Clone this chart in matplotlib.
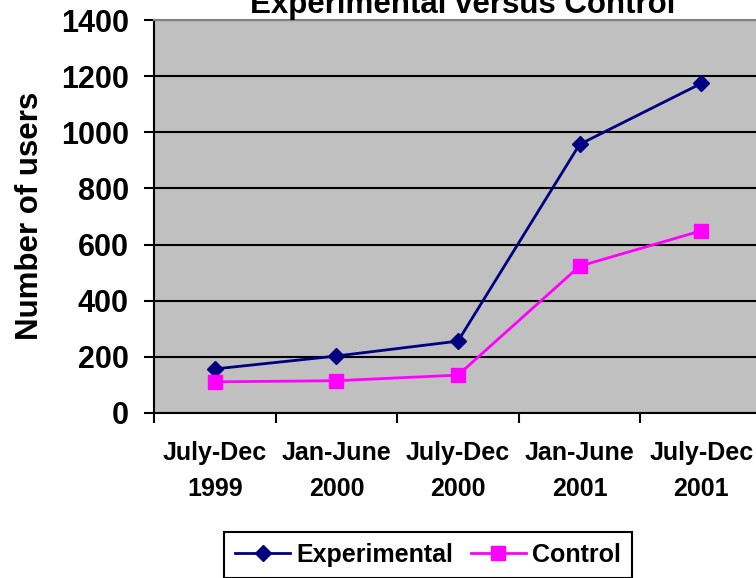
import matplotlib
matplotlib.use("Agg")
import matplotlib.pyplot as plt
import numpy as np

categories = ["July-Dec\n1999", "Jan-June\n2000", "July-Dec\n2000", "Jan-June\n2001", "July-Dec\n2001"]
experimental = [157, 203, 256, 957, 1174]
control = [111, 115, 135, 523, 649]
yticks = [0, 200, 400, 600, 800, 1000, 1200, 1400]

plt.rcParams['font.family'] = ['Liberation Sans', 'DejaVu Sans']
plt.rcParams['font.weight'] = 'bold'

W, H = 756, 578
fig = plt.figure(figsize=(W/100, H/100), dpi=100)
ax = fig.add_axes([154/W, 1-413/H, (762-154)/W, (413-20)/H])
ax.set_facecolor('#C0C0C0')

x = np.arange(len(categories)) + 0.5
ax.plot(x, experimental, color='#000080', lw=2, marker='D', markersize=8,
        markerfacecolor='#000080', markeredgecolor='#000080', label='Experimental', zorder=3, clip_on=False)
ax.plot(x, control, color='#FF00FF', lw=2, marker='s', markersize=10,
        markerfacecolor='#FF00FF', markeredgecolor='#FF00FF', label='Control', zorder=3, clip_on=False)

ax.set_xlim(0, len(categories))
ax.set_ylim(0, 1400)
ax.set_yticks(yticks)
ax.set_yticklabels([str(v) for v in yticks], fontsize=22, fontweight='bold')
ax.set_xticks(np.arange(len(categories)+1))
ax.set_xticklabels([])
ax.set_xticks(x, minor=True)
ax.set_xticklabels(categories, minor=True, fontsize=18, fontweight='bold', linespacing=1.63)
ax.tick_params(axis='x', which='minor', length=0, pad=20.5)
ax.tick_params(axis='x', which='major', length=7, width=1.5, direction='out')
ax.tick_params(axis='y', length=7, width=1.5, direction='out', pad=11)

ax.yaxis.grid(True, color='black', lw=1.5)
ax.set_axisbelow(True)
for s in ['left', 'bottom']:
    ax.spines[s].set_color('black')
    ax.spines[s].set_linewidth(1.5)
ax.spines['top'].set_color('#808080')
ax.spines['top'].set_linewidth(1.5)
ax.spines['right'].set_visible(False)

fig.text(463/W, 1-13/H, "Experimental versus Control", ha='center', va='baseline',
         fontsize=22.5, fontweight='bold')
fig.text(30/W, 1-216/H, "Number of users", ha='center', va='center', rotation=90,
         fontsize=22.5, fontweight='bold')

leg = fig.legend(loc='center', bbox_to_anchor=(428/W, 1-555/H), ncol=2, fontsize=18,
                 frameon=True, fancybox=False, edgecolor='black', framealpha=1,
                 handlelength=2.2, handletextpad=0.25, columnspacing=0.7, borderpad=0.45,
                 borderaxespad=0)
leg.get_frame().set_linewidth(1.5)
for t in leg.get_texts():
    t.set_fontweight('bold')

fig.savefig("out.png", dpi=100)
